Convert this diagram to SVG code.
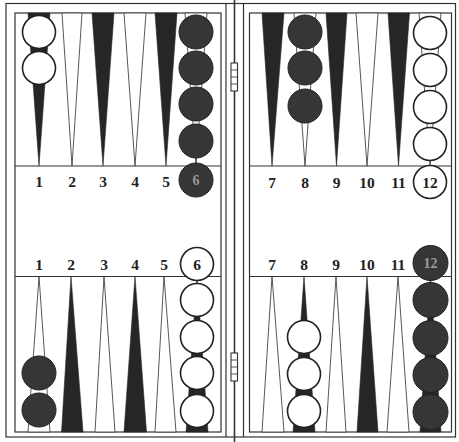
<svg xmlns="http://www.w3.org/2000/svg" width="459" height="442" viewBox="0 0 459 442">
<style>
.ln{fill:none;stroke:#333;stroke-width:1.2}
.thin{fill:none;stroke:#444;stroke-width:0.9}
.bt{fill:#262626;stroke:#262626;stroke-width:0.6}
.wt{fill:#fff;stroke:#444;stroke-width:0.9}
.bc{fill:#363636;stroke:#222;stroke-width:1}
.wc{fill:#fff;stroke:#222;stroke-width:1.6}
.num{font-family:"Liberation Serif","DejaVu Serif",serif;font-size:15.5px;font-weight:bold;fill:#222;text-anchor:middle}
.numw{font-family:"Liberation Serif","DejaVu Serif",serif;font-size:14px;font-weight:bold;fill:#9a9a9a;text-anchor:middle}
</style>
<rect width="459" height="442" fill="#fff"/>
<g id="frame">
<rect class="ln" x="6" y="3.5" width="449.5" height="433.5"/>
<rect class="ln" x="15" y="13" width="206" height="419"/>
<rect class="ln" x="249.5" y="13" width="202" height="419"/>
<line class="ln" x1="226" y1="3.5" x2="226" y2="437"/>
<line class="ln" x1="243.5" y1="3.5" x2="243.5" y2="437"/>
<line x1="234.5" y1="0" x2="234.5" y2="442" stroke="#333" stroke-width="1.6"/>
<line class="ln" x1="15" y1="166" x2="221" y2="166"/>
<line class="ln" x1="249.5" y1="166" x2="451.5" y2="166"/>
<line class="ln" x1="15" y1="276.5" x2="221" y2="276.5"/>
<line class="ln" x1="249.5" y1="276.5" x2="451.5" y2="276.5"/>
</g>
<g id="hinges">
<rect x="231" y="63" width="6.5" height="28" fill="#fff" stroke="#333" stroke-width="1.1"/>
<path class="thin" d="M231 70H237.5M231 77H237.5M231 84H237.5"/>
<rect x="231" y="353" width="6.5" height="28" fill="#fff" stroke="#333" stroke-width="1.1"/>
<path class="thin" d="M231 360H237.5M231 367H237.5M231 374H237.5"/>
</g>
<g id="points-top-left">
<polygon class="bt" points="28,13 50,13 39,166"/>
<polygon class="wt" points="62,13 82,13 72,166"/>
<polygon class="bt" points="92,13 114,13 103,166"/>
<polygon class="wt" points="124,13 146,13 135,166"/>
<polygon class="bt" points="155,13 177,13 166,166"/>
<polygon class="wt" points="185,13 207,13 196,166"/>
</g>
<g id="points-top-right">
<polygon class="bt" points="262,13 284,13 272,166"/>
<polygon class="wt" points="294,13 316,13 305,166"/>
<polygon class="bt" points="326,13 347,13 336.5,166"/>
<polygon class="wt" points="356,13 378,13 367,166"/>
<polygon class="bt" points="388,13 409.5,13 398.5,166"/>
<polygon class="wt" points="419,13 441,13 430,166"/>
</g>
<g id="points-bottom-left">
<polygon class="wt" points="28,432 50,432 39,276.5"/>
<polygon class="bt" points="61.5,432 83,432 71,276.5"/>
<polygon class="wt" points="95,432 115,432 104,276.5"/>
<polygon class="bt" points="124,432 146.5,432 135,276.5"/>
<polygon class="wt" points="155,432 176,432 164,276.5"/>
<polygon class="bt" points="186,432 208,432 197,276.5"/>
</g>
<g id="points-bottom-right">
<polygon class="wt" points="262,432 284,432 272,276.5"/>
<polygon class="bt" points="293,432 315,432 304,276.5"/>
<polygon class="wt" points="326,432 346,432 336,276.5"/>
<polygon class="bt" points="357,432 378,432 367,276.5"/>
<polygon class="wt" points="387,432 409,432 398,276.5"/>
<polygon class="bt" points="420,432 441,432 430.5,276.5"/>
</g>
<g id="checkers-top-left">
<circle class="wc" cx="39" cy="32" r="16.5"/>
<circle class="wc" cx="39" cy="68" r="16.5"/>
<circle class="bc" cx="196" cy="32" r="17"/>
<circle class="bc" cx="196" cy="68" r="17"/>
<circle class="bc" cx="196" cy="104" r="17"/>
<circle class="bc" cx="196" cy="141" r="17"/>
<circle class="bc" cx="196" cy="180" r="17"/>
</g>
<g id="checkers-top-right">
<circle class="bc" cx="305" cy="32" r="17"/>
<circle class="bc" cx="305" cy="68" r="17"/>
<circle class="bc" cx="305" cy="106" r="17"/>
<circle class="wc" cx="430" cy="33" r="16.5"/>
<circle class="wc" cx="430" cy="70" r="16.5"/>
<circle class="wc" cx="430" cy="107" r="16.5"/>
<circle class="wc" cx="430" cy="144" r="16.5"/>
<circle class="wc" cx="430" cy="182" r="16.5"/>
</g>
<g id="checkers-bottom-left">
<circle class="bc" cx="39" cy="373" r="17"/>
<circle class="bc" cx="39" cy="410" r="17"/>
<circle class="wc" cx="197" cy="264" r="16.5"/>
<circle class="wc" cx="197" cy="300" r="16.5"/>
<circle class="wc" cx="197" cy="337" r="16.5"/>
<circle class="wc" cx="197" cy="373" r="16.5"/>
<circle class="wc" cx="197" cy="411" r="16.5"/>
</g>
<g id="checkers-bottom-right">
<circle class="wc" cx="304" cy="337" r="16.5"/>
<circle class="wc" cx="304" cy="374" r="16.5"/>
<circle class="wc" cx="304" cy="411" r="16.5"/>
<circle class="bc" cx="430.5" cy="263" r="17.5"/>
<circle class="bc" cx="430.5" cy="300" r="17.5"/>
<circle class="bc" cx="430.5" cy="338" r="17.5"/>
<circle class="bc" cx="430.5" cy="375" r="17.5"/>
<circle class="bc" cx="430.5" cy="412" r="17.5"/>
</g>
<g id="labels-top">
<text class="num" x="39" y="186.5">1</text>
<text class="num" x="72" y="186.5">2</text>
<text class="num" x="103" y="186.5">3</text>
<text class="num" x="135" y="186.5">4</text>
<text class="num" x="166" y="186.5">5</text>
<text class="numw" x="196" y="185">6</text>
<text class="num" x="272" y="187.5">7</text>
<text class="num" x="305" y="187.5">8</text>
<text class="num" x="336.5" y="187.5">9</text>
<text class="num" x="367" y="187.5">10</text>
<text class="num" x="398.5" y="187.5">11</text>
<text class="num" x="430" y="187.5">12</text>
</g>
<g id="labels-bottom">
<text class="num" x="39" y="269.5">1</text>
<text class="num" x="71" y="269.5">2</text>
<text class="num" x="104" y="269.5">3</text>
<text class="num" x="135" y="269.5">4</text>
<text class="num" x="164" y="269.5">5</text>
<text class="num" x="197" y="269.5">6</text>
<text class="num" x="272" y="269.5">7</text>
<text class="num" x="304" y="269.5">8</text>
<text class="num" x="336" y="269.5">9</text>
<text class="num" x="367" y="269.5">10</text>
<text class="num" x="398" y="269.5">11</text>
<text class="numw" x="430.5" y="268">12</text>
</g>
</svg>
